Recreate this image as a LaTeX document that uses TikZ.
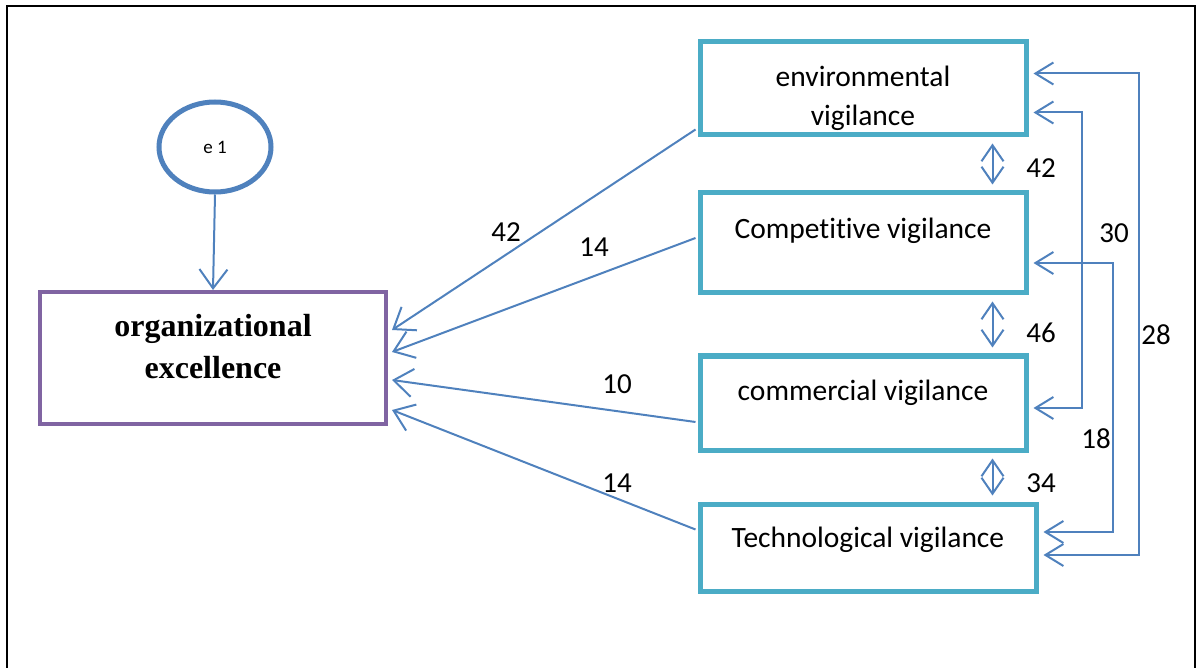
\documentclass[tikz,border=0pt]{standalone}
\usepackage{fontspec}
\setmainfont[RawFeature={-liga}]{Carlito}
\newfontfamily\timesbf{Liberation Serif}
\usetikzlibrary{arrows.meta,calc,shapes.geometric}
\definecolor{conblue}{HTML}{4F81BD}
\definecolor{boxteal}{HTML}{4BACC6}
\definecolor{boxpurple}{HTML}{8064A2}
\tikzset{
  vbox/.style={draw=boxteal,line width=5pt,inner sep=0pt,align=center,
    font=\fontsize{29.5}{39}\selectfont},
  conn/.style={draw=conblue,line width=2pt,-{Straight Barb[length=19pt,width=28pt]}},
  biconn/.style={draw=conblue,line width=2pt,{Straight Barb[length=16pt,width=22pt]}-{Straight Barb[length=16pt,width=22pt]}},
  rconn/.style={draw=conblue,line width=2pt,{Straight Barb[length=18pt,width=22pt]}-{Straight Barb[length=18pt,width=22pt]}},
  lbl/.style={font=\fontsize{29}{30}\selectfont,inner sep=0pt}
}
\begin{document}
\begin{tikzpicture}[x=1pt,y=-1pt]
\useasboundingbox (0,0) rectangle (1197,668);
\clip (0,0) rectangle (1197,668);
\draw[line width=1.5pt] (7,6) rectangle (1195,690);
% nodes
\node[draw=conblue,line width=5pt,ellipse,minimum width=112pt,minimum height=90pt,inner sep=0pt,
  font=\fontsize{19}{20}\selectfont] (e1) at (215,147) {e 1};
\node[draw=boxpurple,line width=4pt,minimum width=346pt,minimum height=132pt,inner sep=0pt,
  align=center,font=\timesbf\bfseries\fontsize{32}{42}\selectfont] (oe) at (213,358) {organizational\\excellence\\[-19pt]};
\node[vbox,minimum width=326pt,minimum height=93pt] (env) at (863,88.5) {environmental\\vigilance\\[-53pt]};
\node[vbox,minimum width=326pt,minimum height=100pt] (comp) at (863,243) {Competitive vigilance\\[-9pt]};
\node[vbox,minimum width=326pt,minimum height=94pt] (comm) at (863,403) {commercial vigilance\\[-13pt]};
\node[vbox,minimum width=336pt,minimum height=87pt] (tech) at (868,547.5) {Technological vigilance\\[-19pt]};
% e1 -> oe
\draw[conn] (e1.south) -- (oe.north);
% predictors -> oe
\draw[conn] ($(env.south west)+(-2,-8)$) -- ($(oe.east)+(4,-28)$);
\draw[conn] ($(comp.west)+(-2,-5)$) -- ($(oe.east)+(4,-6)$);
\draw[conn] ($(comm.west)+(-2,19)$) -- ($(oe.east)+(4,22)$);
\draw[conn] ($(tech.west)+(-2,-18)$) -- ($(oe.east)+(4,52)$);
% labels
\node[lbl] (l1) at (506,232) {42};
\node[lbl] (l2) at (594,247) {14};
\node[lbl] (l3) at (617,384) {10};
\node[lbl] (l4) at (617,483) {14};
% vertical covariances
\draw[biconn] ($(env.south east)+(-36,6)$) -- ($(comp.north east)+(-36,-6)$);
\draw[biconn] ($(comp.south east)+(-36,6)$) -- ($(comm.north east)+(-36,-6)$);
\draw[biconn] ($(comm.south east)+(-36,6)$) -- ($(tech.north east)+(-46,-6)$);
\node[lbl] (c1) at (1041,168) {42};
\node[lbl] (c2) at (1041,333) {46};
\node[lbl] (c3) at (1041,483) {34};
% right side covariances
\draw[rconn] ($(env.north east)+(5,34)$) -- ++(105,0) |- ($(tech.east)+(5,7.5)$);
\draw[rconn] ($(env.north east)+(5,73)$) -- ++(48,0) |- ($(comm.east)+(5,5)$);
\draw[rconn] ($(comp.east)+(5,20)$) -- ++(79,0) |- ($(tech.east)+(5,-15.5)$);
\node[lbl] (r1) at (1114,233) {30};
\node[lbl] (r2) at (1096,439) {18};
\node[lbl] (r3) at (1156,335) {28};
\end{tikzpicture}
\end{document}
